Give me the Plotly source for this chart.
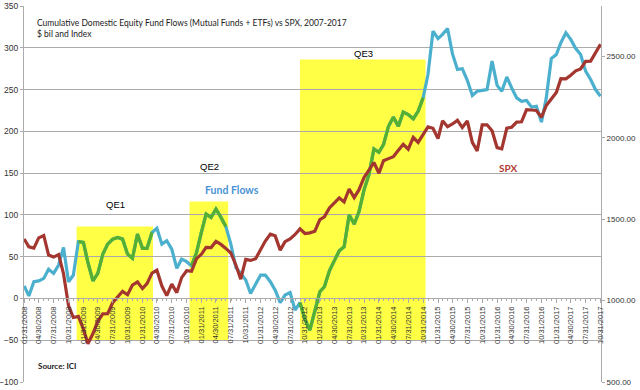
import pandas as pd
import plotly.graph_objects as go

# ---- data ----
dates = pd.date_range("2008-01-31", periods=118, freq="ME")

fund_flows = [
    15, 3, 20, 21, 24, 35, 30, 40, 61, 20, 28, 68,          # 2008
    67, 43, 21, 30, 53, 65, 71, 73, 71, 53, 48, 77,         # 2009
    60, 60, 79, 84, 65, 69, 59, 36, 47, 44, 39, 55,         # 2010
    80, 101, 97, 107, 97, 86, 65, 37, 30, 22, 6, 18,        # 2011
    28, 28, 20, 10, -5, 4, 7, -14, -5, -25, -38, -15,       # 2012
    8, 14, 33, 45, 57, 62, 100, 89, 104, 130, 148, 179,     # 2013
    175, 184, 206, 217, 206, 223, 220, 215, 224, 240, 268, 320,  # 2014
    311, 316, 323, 293, 274, 275, 261, 243, 248, 249, 250, 284,  # 2015
    255, 248, 265, 252, 240, 236, 237, 229, 230, 211, 240, 287,  # 2016
    292, 306, 318, 310, 299, 292, 272, 262, 250, 242,            # 2017
]

spx = [
    1378.6, 1330.6, 1322.7, 1385.6, 1400.4, 1280.0, 1267.4, 1282.8, 1166.4, 968.8, 896.2, 903.3,
    825.9, 735.1, 797.9, 872.8, 919.1, 919.3, 987.5, 1020.6, 1057.1, 1036.2, 1095.6, 1115.1,
    1073.9, 1104.5, 1169.4, 1186.7, 1089.4, 1030.7, 1101.6, 1049.3, 1141.2, 1183.3, 1180.6, 1257.6,
    1286.1, 1327.2, 1325.8, 1363.6, 1345.2, 1320.6, 1292.3, 1218.9, 1131.4, 1253.3, 1247.0, 1257.6,
    1312.4, 1365.7, 1408.5, 1397.9, 1310.3, 1362.2, 1379.3, 1406.6, 1440.7, 1412.2, 1416.2, 1426.2,
    1498.1, 1514.7, 1569.2, 1597.6, 1630.7, 1606.3, 1685.7, 1633.0, 1681.6, 1756.5, 1805.8, 1848.4,
    1782.6, 1859.5, 1872.3, 1884.0, 1923.6, 1960.2, 1930.7, 2003.4, 1972.3, 2018.1, 2067.6, 2058.9,
    1995.0, 2104.5, 2067.9, 2085.5, 2107.4, 2063.1, 2103.8, 1972.2, 1920.0, 2079.4, 2080.4, 2043.9,
    1940.2, 1932.2, 2059.7, 2065.3, 2097.0, 2098.9, 2173.6, 2171.0, 2168.3, 2126.2, 2198.8, 2238.8,
    2278.9, 2363.6, 2362.7, 2384.2, 2411.8, 2423.4, 2470.3, 2471.7, 2519.4, 2575.3,
]

qe_names = ["QE1", "QE2", "QE3"]
qe_starts = ["2008-12-20", "2010-11-18", "2012-09-30"]
qe_ends = ["2010-04-06", "2011-07-15", "2014-11-15"]
qe_tops = [86, 116, 286]
qe_base = -50
# months drawn green (fund flows during QE)
qe_green_first = ["2008-12-31", "2010-11-30", "2012-09-30"]
qe_green_last = ["2010-03-31", "2011-06-30", "2014-10-31"]

tick_dates = dates[::3]
tick_text = [d.strftime("%m/%d/%Y") for d in tick_dates]

left_ticks = [-100, -50, 0, 50, 100, 150, 200, 250, 300, 350]
right_ticks = [500, 1000, 1500, 2000, 2500]

# ---- colours ----
BLUE = "#4BB0CE"
GREEN = "#55AF31"
RED = "#A3362F"
YELLOW = "#FFFF45"
GRID = "#ABABAB"
TXT = "#333333"

green = []
for d, v in zip(dates, fund_flows):
    inside = any(pd.Timestamp(a) <= d <= pd.Timestamp(b) for a, b in zip(qe_green_first, qe_green_last))
    green.append(v if inside else None)

fig = go.Figure()

fig.add_trace(go.Scatter(x=dates, y=fund_flows, mode="lines",
                         line=dict(color=BLUE, width=3.2), name="Fund Flows"))
fig.add_trace(go.Scatter(x=dates, y=green, mode="lines",
                         line=dict(color=GREEN, width=3.2), connectgaps=False, name="Fund Flows (QE)"))
fig.add_trace(go.Scatter(x=dates, y=spx, mode="lines", yaxis="y2",
                         line=dict(color=RED, width=3.2), name="SPX"))

for s, e, top in zip(qe_starts, qe_ends, qe_tops):
    fig.add_shape(type="rect", xref="x", yref="y", x0=s, x1=e, y0=qe_base, y1=top,
                  fillcolor=YELLOW, line=dict(width=0), layer="below")

AX_FONT = dict(family="Liberation Sans, Arial", size=8.5, color=TXT)

fig.update_layout(
    width=640, height=390,
    margin=dict(l=24, r=39, t=6, b=8, autoexpand=False),
    paper_bgcolor="white", plot_bgcolor="white",
    showlegend=False,
    xaxis=dict(
        range=[pd.Timestamp("2008-01-30"), pd.Timestamp("2017-11-03")],
        tickvals=list(tick_dates), ticktext=tick_text, tickangle=-90,
        tickfont=dict(family="Liberation Sans, Arial", size=7.5, color=TXT),
        showgrid=False, showline=True, linecolor=GRID, linewidth=1,
        ticks="outside", ticklen=4, tickcolor=GRID,
        minor=dict(ticks="outside", ticklen=2, tickcolor=GRID, dtick="M1"),
        anchor="free", position=100 / 450, zeroline=False, automargin=False,
    ),
    yaxis=dict(
        range=[-100, 350], tickvals=left_ticks, tickfont=AX_FONT,
        showgrid=True, gridcolor=GRID, gridwidth=1, zeroline=False,
        showline=True, linecolor=GRID, ticks="outside", ticklen=3, tickcolor=GRID,
        automargin=False,
    ),
    yaxis2=dict(
        range=[500, 2810], tickvals=right_ticks, tickformat=".2f",
        tickfont=dict(family="Liberation Sans, Arial", size=8, color=TXT),
        overlaying="y", side="right",
        showgrid=False, zeroline=False, showline=True, linecolor=GRID,
        ticks="outside", ticklen=3, tickcolor=GRID, automargin=False,
    ),
)

TITLE_FONT = dict(family="Lato, Open Sans, sans-serif", size=8.5, color="#1a1a1a")
QE_FONT = dict(family="Liberation Sans, Arial", size=9.5, color="black")
ann = [
    dict(text="Cumulative Domestic Equity Fund Flows (Mutual Funds + ETFs) vs SPX, 2007-2017",
         x=0.019, y=0.955, xanchor="left", font=TITLE_FONT),
    dict(text="$ bil and Index", x=0.019, y=0.925, xanchor="left", font=TITLE_FONT),
    dict(text="<b>Source: ICI</b>", x=0.021, y=0.043, xanchor="left",
         font=dict(family="Lato, sans-serif", size=8, color="#1a1a1a")),
    dict(text="QE1", x=0.159, y=0.471, xanchor="center", font=QE_FONT),
    dict(text="QE2", x=0.321, y=0.572, xanchor="center", font=QE_FONT),
    dict(text="QE3", x=0.589, y=0.875, xanchor="center", font=QE_FONT),
    dict(text="<b>Fund Flows</b>", x=0.361, y=0.511, xanchor="center",
         font=dict(family="Lato, sans-serif", size=10.5, color="#4A93D6")),
    dict(text="<b>SPX</b>", x=0.839, y=0.569, xanchor="center",
         font=dict(family="Lato, sans-serif", size=10, color="#B03A35")),
]
for a in ann:
    fig.add_annotation(xref="paper", yref="paper", showarrow=False, yanchor="middle", **a)

fig.write_html("out.html", config={"displayModeBar": False},
               post_script="document.body.style.margin='0';document.body.style.overflow='hidden';")
